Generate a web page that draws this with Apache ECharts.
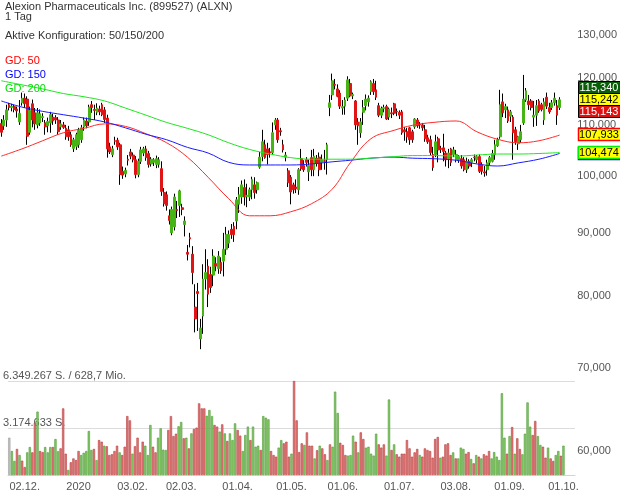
<!DOCTYPE html>
<html><head><meta charset="utf-8">
<script src="https://cdn.jsdelivr.net/npm/echarts@6/dist/echarts.min.js"></script>
<style>html,body{margin:0;padding:0;background:#fff}#c{width:620px;height:496px}</style>
</head><body><div id="c"></div>
<script>
// ---------- calendar (US trading days) ----------
const holidays = ['2019-11-28','2019-12-25','2020-01-01','2020-01-20','2020-02-17','2020-04-10','2020-05-25','2020-07-03','2020-09-07'];
const firstDay = '2019-11-21';
const lastDay = '2020-10-07';
const tickDates = ['2019-12-02','2020-01-02','2020-02-03','2020-03-02','2020-04-01','2020-05-01','2020-06-01','2020-07-01','2020-08-03','2020-09-01','2020-10-01'];
const tickLabels = ['02.12.','2020','03.02.','02.03.','01.04.','01.05.','01.06.','01.07.','03.08.','01.09.','01.10.'];

// ---------- OHLC (one per trading day from 21.11.2019) ----------
const open = [
110.3,109.8,111.0,114.2,113.6,113.8,113.3,110.6,114.6,115.6,
115.4,108.5,114.4,112.5,110.0,110.4,111.5,110.4,109.8,110.4,
111.6,111.5,111.0,109.6,110.0,109.3,109.0,108.0,105.3,105.7,
106.0,107.0,109.6,110.8,110.6,114.2,113.2,112.6,113.3,114.2,
113.1,111.4,105.6,104.1,106.8,106.9,106.0,100.9,100.4,103.2,
104.6,104.0,103.1,100.3,102.8,104.4,105.2,104.3,102.3,102.6,
102.2,102.2,101.4,97.0,96.6,92.9,90.0,91.0,94.0,94.7,
94.3,91.4,86.8,89.2,86.5,78.4,80.7,73.9,77.1,82.6,
84.6,83.3,83.2,85.0,84.2,85.2,85.4,87.3,88.3,90.6,
91.1,92.0,94.9,96.2,97.9,96.3,96.2,97.5,98.4,97.5,
101.7,103.7,106.0,105.2,104.6,104.5,110.0,111.0,108.8,106.0,
103.6,101.0,99.8,98.4,98.0,97.5,103.3,102.0,103.1,100.8,
103.5,101.2,103.4,103.6,102.6,102.9,103.1,113.6,116.3,118.6,
117.6,116.7,113.5,113.9,115.6,118.8,116.1,115.0,110.6,108.4,
112.6,114.0,114.8,117.0,118.8,117.4,114.0,112.0,113.4,113.8,
111.6,112.5,114.4,112.8,112.6,112.7,109.0,108.6,109.4,108.6,
109.6,111.0,110.1,110.0,109.0,107.4,107.0,104.1,104.1,107.2,
105.3,105.4,104.4,103.3,105.2,104.1,103.1,103.1,103.3,103.1,
101.2,102.8,102.6,103.6,103.1,103.7,102.2,100.8,101.2,102.6,
102.8,104.1,105.8,107.6,114.8,113.1,113.1,111.8,111.6,109.0,
106.2,107.0,110.4,115.2,115.0,115.0,111.6,112.0,115.0,114.2,
111.0,115.8,113.6,113.6,114.6,114.0,113.6];
const high = [
111.2,112.0,114.2,114.6,114.4,114.2,113.8,115.2,116.8,116.6,
116.0,113.8,115.3,113.5,113.5,113.2,112.4,111.0,111.5,112.7,
112.3,112.0,111.6,111.0,110.6,110.0,109.8,108.6,107.4,108.4,
109.4,110.0,111.5,111.5,114.2,115.0,114.2,114.5,114.0,114.6,
113.7,112.1,106.4,105.8,107.6,107.4,106.4,101.8,101.6,104.0,
105.2,104.5,103.8,103.3,105.6,105.6,105.8,104.8,103.6,103.4,
103.9,103.6,102.8,97.8,97.2,94.0,94.5,96.8,95.5,97.5,
95.0,92.8,88.0,90.0,87.8,81.8,82.0,76.7,84.9,87.3,
85.7,84.5,87.3,86.0,87.0,86.0,90.0,91.0,90.4,91.5,
91.8,96.2,98.0,99.2,99.4,98.6,97.9,99.9,99.8,99.0,
104.6,109.0,107.0,106.4,105.4,110.5,111.4,111.4,109.4,107.0,
104.6,101.5,100.2,98.8,99.4,101.5,105.2,103.0,103.6,103.1,
105.0,105.2,104.0,104.5,104.1,105.0,106.4,116.3,121.0,119.8,
118.6,117.3,115.2,115.8,120.4,119.8,116.8,115.2,111.4,111.4,
115.2,116.4,116.2,119.5,119.8,119.4,114.6,113.8,114.2,114.2,
113.6,113.6,114.6,113.4,113.0,113.1,109.6,109.4,109.6,109.0,
111.4,111.4,110.6,110.4,110.0,108.0,107.8,105.6,108.0,107.6,
105.8,108.2,104.8,105.2,105.4,105.6,105.0,104.0,104.0,103.6,
103.5,103.2,103.4,104.1,104.0,104.1,102.6,101.9,103.1,103.8,
105.0,107.0,107.4,117.4,116.6,114.4,113.8,113.1,112.0,109.6,
107.8,110.0,120.7,117.8,116.3,115.4,115.0,115.2,115.4,114.6,
115.6,116.8,114.6,115.2,116.8,115.2,115.8];
const low = [
107.6,109.0,109.6,113.0,112.8,112.6,111.5,110.0,114.0,113.5,
106.0,108.0,109.5,109.0,109.3,109.8,110.6,108.0,108.5,108.4,
110.0,110.2,108.0,109.0,109.2,107.0,106.8,105.6,104.6,105.0,
105.4,106.4,108.8,109.3,109.8,112.5,111.0,112.0,112.0,111.8,
110.4,103.5,104.2,103.6,106.0,105.0,98.4,99.5,99.8,102.0,
103.2,102.6,99.6,99.8,102.3,103.8,102.9,101.6,101.8,101.9,
101.5,101.6,96.4,94.5,93.8,91.4,89.6,90.4,92.5,92.7,
93.0,89.4,85.5,87.6,81.8,74.8,75.0,72.5,74.6,81.0,
78.4,80.5,81.5,83.8,83.4,83.4,83.0,86.4,87.5,89.0,
88.5,90.6,93.4,95.0,94.7,94.4,95.5,95.8,95.9,96.8,
101.4,102.8,103.3,102.2,103.5,104.1,109.0,106.4,107.8,104.5,
102.8,98.0,94.9,96.8,96.9,96.6,101.0,100.8,101.8,99.1,
100.0,100.0,101.8,100.0,101.2,101.2,100.3,111.8,115.2,117.5,
115.8,113.3,112.1,112.1,115.0,115.8,115.4,109.0,106.0,107.4,
110.0,113.0,113.8,116.3,116.3,115.2,111.6,111.4,112.6,111.0,
111.0,111.4,112.0,111.8,111.2,108.0,106.8,106.4,106.0,106.4,
109.2,109.4,109.2,108.8,106.6,106.2,104.0,101.0,103.6,102.6,
104.4,102.8,101.8,101.5,101.9,103.6,102.6,102.5,101.4,100.9,
100.6,101.4,101.7,102.8,102.4,100.6,100.3,99.9,100.1,102.1,
102.6,103.1,105.6,107.2,111.6,111.4,110.4,110.6,103.1,106.0,
105.0,106.4,110.0,114.8,113.1,113.0,109.6,109.8,112.5,112.8,
110.0,113.3,112.3,113.1,114.0,110.0,113.1];
const close = [
108.5,111.0,113.1,113.6,113.9,113.2,112.9,112.4,115.6,114.4,
107.7,113.0,111.0,110.2,112.5,112.3,111.7,109.6,110.7,112.1,
110.8,111.0,108.6,110.2,109.5,107.6,107.6,106.0,107.0,108.0,
108.9,109.4,111.0,109.8,113.7,113.6,113.0,113.5,112.7,112.1,
111.1,105.2,104.6,105.2,106.7,105.6,100.3,100.2,101.1,103.0,
103.8,103.1,100.3,102.8,105.0,105.2,103.5,102.2,103.2,103.1,
103.3,103.1,97.2,95.0,94.7,92.1,94.0,96.2,93.8,97.3,
94.0,92.0,86.5,89.0,83.6,76.7,80.4,75.4,82.6,83.6,
80.3,81.3,86.2,84.6,86.2,83.9,87.3,89.7,89.7,89.7,
89.7,95.7,96.6,98.4,96.2,96.5,97.5,99.4,97.0,98.8,
103.6,106.6,103.5,104.1,104.5,108.4,111.0,107.0,108.6,105.0,
104.0,98.8,97.1,97.5,97.7,101.2,101.4,101.2,102.6,102.0,
101.2,103.8,102.4,101.2,103.1,102.8,106.0,114.6,119.4,118.4,
116.0,113.9,113.8,115.2,119.6,116.1,116.4,110.0,109.8,110.6,
113.6,115.4,115.6,119.2,117.0,115.8,112.0,113.4,113.6,111.2,
113.3,112.3,112.4,112.7,112.0,108.4,108.6,107.6,107.0,107.0,
111.2,109.8,110.0,109.4,107.2,106.6,104.5,101.6,106.6,105.0,
105.1,104.7,103.1,104.4,102.6,105.0,104.1,103.7,101.9,101.2,
102.8,101.9,103.1,103.5,103.7,100.9,100.9,100.6,102.5,103.5,
104.3,106.0,107.0,114.2,112.5,113.8,110.8,112.7,108.4,106.6,
107.6,108.6,115.4,117.2,114.2,113.6,112.0,114.0,112.9,113.2,
114.8,113.9,112.7,114.6,115.6,112.0,115.242];

// ---------- volume (million shares) ----------
const volumeMio = [
2.52,1.62,0.95,1.76,1.35,0.97,0.54,1.53,1.89,1.53,
3.53,4.28,1.62,1.55,1.89,1.53,1.89,1.89,2.43,1.60,
1.80,4.50,1.44,0.34,0.86,1.12,1.01,1.62,1.35,1.50,
1.62,2.97,1.69,1.76,1.01,2.36,2.25,1.98,1.94,1.35,
1.40,1.62,1.98,1.53,1.35,1.91,3.98,3.69,1.44,1.94,
2.52,1.53,2.25,1.98,1.35,3.38,1.91,1.53,2.52,3.15,
1.71,1.69,3.04,3.98,2.63,2.79,3.29,3.58,2.48,2.52,
1.80,2.81,3.11,3.20,4.84,4.50,4.50,4.00,4.39,3.98,
3.38,3.27,2.93,3.42,2.81,2.30,2.81,2.36,3.49,3.04,
2.66,1.62,2.70,3.27,2.36,3.27,1.91,1.98,1.69,3.98,
3.87,3.76,1.62,1.35,1.24,1.85,2.36,2.14,2.25,1.24,
1.44,6.349267,3.69,1.55,2.14,2.03,2.88,1.98,1.98,1.12,
1.67,1.98,1.80,1.40,1.01,2.07,1.91,5.63,4.19,2.18,
2.03,1.35,1.31,1.35,2.66,2.25,1.53,2.88,2.43,1.85,
1.91,1.44,1.31,2.79,2.07,1.85,2.07,1.31,5.10,1.69,
2.07,1.40,1.24,1.44,1.44,2.36,1.80,1.24,1.53,1.76,
1.35,1.24,1.80,1.69,1.62,1.17,2.43,2.57,1.17,1.24,
2.07,2.14,1.35,1.53,1.12,1.12,1.85,1.76,1.44,1.55,
1.08,0.79,1.35,1.24,1.12,1.40,1.31,1.62,1.12,1.55,
1.24,1.01,5.52,2.52,1.44,2.63,3.24,1.44,2.48,1.76,
1.40,2.79,4.90,3.27,2.70,3.65,2.63,2.03,1.91,1.17,
1.85,1.12,0.95,1.35,1.62,1.30,1.98];
const volumeMax = 6349267;
const turnoverMaxMio = 628.7;

// ---------- moving averages (read every 8 trading days) ----------
const maDates = ['2019-11-21','2019-12-04','2019-12-16','2019-12-27','2020-01-09','2020-01-22','2020-02-03','2020-02-13','2020-02-26','2020-03-09','2020-03-19','2020-03-31','2020-04-13','2020-04-23','2020-05-05','2020-05-15','2020-05-28','2020-06-08','2020-06-18','2020-07-01','2020-07-13','2020-07-23','2020-08-05','2020-08-17','2020-08-27','2020-09-09','2020-09-21','2020-10-01'];
const gd50  = [103.8,105.2,106.8,108.4,109.3,110.2,109.7,108.2,106.4,103.6,99.8,95.9,92.9,92.9,93.6,95.0,97.6,102.5,107.2,108.9,109.9,110.5,110.8,108.6,107.1,106.4,106.8,107.933];
const gd150 = [115.0,113.7,112.8,112.1,111.4,110.6,109.4,108.1,107.0,105.5,104.4,102.6,102.1,102.1,102.1,102.3,102.7,103.0,103.4,103.6,103.4,103.3,103.0,102.3,101.9,102.5,103.2,104.3];
const gd200 = [119.4,118.5,117.6,116.6,115.9,115.0,113.5,112.0,110.5,109.3,108.0,106.4,105.1,104.2,103.5,103.2,103.2,103.2,103.4,103.7,103.9,103.9,103.8,104.0,104.2,104.2,104.3,104.474];

// ---------- price axis ticks & last quotes ----------
const priceTicks = [60,70,80,90,100,110,120,130];
const quoteValues = [115.340, 115.242, 115.143];

// ================================================================
const FONT = '"Liberation Sans", Arial, sans-serif';
const GREEN = '#46b414', RED = '#e01414';
const L = v => Math.log(v);
function buildDates(){
  const out = []; let t = Date.parse(firstDay + 'T00:00:00Z'); const end = Date.parse(lastDay + 'T00:00:00Z');
  while (t <= end) { const d = new Date(t); const wd = d.getUTCDay(); const s = d.toISOString().slice(0,10);
    if (wd !== 0 && wd !== 6 && holidays.indexOf(s) < 0) out.push(s); t += 86400000; }
  return out;
}
const dates = buildDates();
const n = close.length;
const fmtDE = v => String(Math.floor(v)).replace(/\B(?=(\d{3})+(?!\d))/g, '.');
const fmtPrice = v => v.toFixed(3).replace('.', ',');

const wickData = [], bodyData = [], volData = [];
for (let i = 0; i < n; i++) {
  wickData.push([L(open[i]), L(close[i]), L(low[i]), L(high[i])]);
  bodyData.push([L(open[i]), L(close[i]), L(Math.min(open[i], close[i])), L(Math.max(open[i], close[i]))]);
  const up = close[i] >= open[i];
  const st = i === 0 ? {color:'#c4c4c4', borderColor:'#9a9a9a'} : (up ? {color:'#88c96c', borderColor:'#4c9a30'} : {color:'#e17b7b', borderColor:'#b83a3a'});
  volData.push({value: volumeMio[i] * 1e6, itemStyle: Object.assign({borderWidth: 0.6}, st)});
}
const maSeries = (arr, color) => ({
  type:'line', xAxisIndex:0, yAxisIndex:0, data: maDates.map((d,k) => [d, L(arr[k])]),
  smooth: 0.4, symbol:'none', lineStyle:{color, width:1}, silent:true, z:5
});

const chart = echarts.init(document.getElementById('c'), null, {renderer:'canvas'});
const option = {
  animation:false,
  grid:[{left:0, right:45, top:35, height:416}, {left:0, right:45, top:381, height:94}],
  xAxis:[
    {type:'category', gridIndex:0, data:dates, boundaryGap:true, show:false},
    {type:'category', gridIndex:1, data:dates, boundaryGap:true,
     axisLine:{show:true, lineStyle:{color:'#d4d4d4'}}, axisTick:{show:false}, splitLine:{show:false},
     axisLabel:{interval:(i, v) => tickDates.indexOf(v) >= 0, formatter: v => tickLabels[tickDates.indexOf(v)] || '',
       fontSize:11, fontFamily:FONT, color:'#555', margin:6, hideOverlap:false}}
  ],
  yAxis:[
    {type:'value', gridIndex:0, position:'right', min:L(60), max:L(130), scale:true,
     axisLine:{show:false}, axisTick:{show:false}, splitLine:{show:false},
     axisLabel:{customValues: priceTicks.map(L), formatter: v => fmtPrice(Math.exp(v)),
       fontSize:11, fontFamily:FONT, color:'#555', margin:6, showMinLabel:true, showMaxLabel:true}},
    {type:'value', gridIndex:1, position:'left', min:0, max:volumeMax, interval:volumeMax/2,
     axisLine:{show:false}, axisTick:{show:false},
     splitLine:{show:true, lineStyle:{color:'#dcdcdc', width:1}},
     axisLabel:{inside:true, margin:-5, verticalAlign:'bottom', fontSize:11, fontFamily:FONT, color:'#555',
       formatter: v => v <= 0 ? '' : (v >= volumeMax ? fmtDE(v) + ' S. / ' + turnoverMaxMio.toFixed(1).replace('.', ',') + ' Mio.' : fmtDE(v) + ' S.')}}
  ],
  series:[
    {type:'bar', xAxisIndex:1, yAxisIndex:1, data:volData, barCategoryGap:'12%', silent:true},
    {type:'candlestick', xAxisIndex:0, yAxisIndex:0, data:wickData, barWidth:1, silent:true,
     itemStyle:{color:'#000', color0:'#000', borderColor:'#000', borderColor0:'#000', borderWidth:1}},
    {type:'candlestick', xAxisIndex:0, yAxisIndex:0, data:bodyData, barWidth:2.3, silent:true,
     itemStyle:{color:GREEN, color0:RED, borderColor:GREEN, borderColor0:RED, borderColorDoji:RED, borderWidth:1}},
    maSeries(gd50, '#ff2a2a'),
    maSeries(gd150, '#1a1aff'),
    maSeries(gd200, '#1ee61e')
  ]
};
chart.setOption(option);

// ---------- header + value boxes ----------
const txt = (x, y, text, color) => ({type:'text', silent:true, z:50,
  style:{x, y, text, fill:color, font:'11px ' + FONT, textAlign:'left', align:'left', textVerticalAlign:'top', verticalAlign:'top'}});
const yPx = v => chart.convertToPixel({yAxisIndex:0}, L(v));
function box(yc, label, bg, fg, stroke, lw){
  return {type:'group', silent:true, z:60, children:[
    {type:'rect', shape:{x:578.5, y:Math.round(yc) - 6.5, width:44, height:12}, style:{fill:bg, stroke:stroke, lineWidth:lw}},
    {type:'text', style:{x:599, y:Math.round(yc), text:label, fill:fg, font:'11px ' + FONT,
      textAlign:'center', align:'center', textVerticalAlign:'middle', verticalAlign:'middle'}}
  ]};
}
const yMid = yPx(quoteValues[1]);
const graphics = [
  txt(5, 1, 'Alexion Pharmaceuticals Inc. (899527) (ALXN)', '#333'),
  txt(5, 11, '1 Tag', '#333'),
  txt(5, 30, 'Aktive Konfiguration: 50/150/200', '#333'),
  txt(5, 55, 'GD: 50', '#ff0000'),
  txt(5, 69, 'GD: 150', '#0000ff'),
  txt(5, 83, 'GD: 200', '#00dd00'),
  box(yPx(gd150[gd150.length-1]), fmtPrice(gd150[gd150.length-1]), '#ffff00', '#000', '#0000ff', 1.5),
  box(yPx(gd200[gd200.length-1]), fmtPrice(gd200[gd200.length-1]), '#ffff00', '#000', '#00ee00', 1.5),
  box(yPx(gd50[gd50.length-1]), fmtPrice(gd50[gd50.length-1]), '#ffff00', '#000', '#ff0000', 1.5),
  box(yMid - 12, fmtPrice(quoteValues[0]), '#0a5e0a', '#fff', '#000', 1),
  box(yMid, fmtPrice(quoteValues[1]), '#ffff00', '#000', '#000', 1),
  box(yMid + 12, fmtPrice(quoteValues[2]), '#e01010', '#fff', '#000', 1)
];
chart.setOption({graphic: graphics});
</script>
</body></html>
